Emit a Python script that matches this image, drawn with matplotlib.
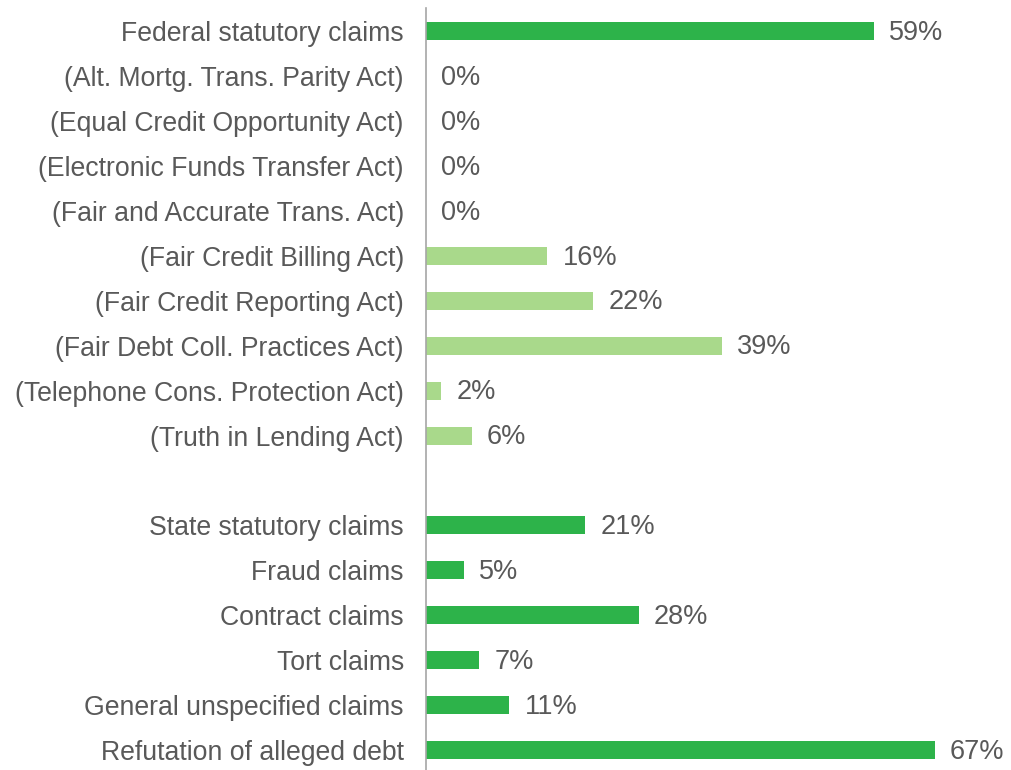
import numpy as np
import matplotlib.pyplot as plt

plt.rcParams['font.family'] = ['Liberation Sans', 'DejaVu Sans']

labels = [
    'Federal statutory claims',
    '(Alt. Mortg. Trans. Parity Act)',
    '(Equal Credit Opportunity Act)',
    '(Electronic Funds Transfer Act)',
    '(Fair and Accurate Trans. Act)',
    '(Fair Credit Billing Act)',
    '(Fair Credit Reporting Act)',
    '(Fair Debt Coll. Practices Act)',
    '(Telephone Cons. Protection Act)',
    '(Truth in Lending Act)',
    '',
    'State statutory claims',
    'Fraud claims',
    'Contract claims',
    'Tort claims',
    'General unspecified claims',
    'Refutation of alleged debt',
]
values = [59, 0, 0, 0, 0, 16, 22, 39, 2, 6, None, 21, 5, 28, 7, 11, 67]
is_sub = [False, True, True, True, True, True, True, True, True, True, False,
          False, False, False, False, False, False]

DARK = '#2db34a'
LIGHT = '#a9d98b'
TEXT = '#595959'

fig = plt.figure(figsize=(10.11, 7.70), dpi=100)
ax = fig.add_axes([426 / 1011, 0, 1 - 426 / 1011, 1 - 8 / 770])

ypos = np.arange(len(labels))
for y, v, sub in zip(ypos, values, is_sub):
    if v is None:
        continue
    ax.barh(y, v, height=0.4, color=LIGHT if sub else DARK)
    ax.text(v + 2.0, y + 0.04, f'{v}%', va='center', ha='left', fontsize=19.5, color=TEXT)

ax.set_xlim(0, (1011 - 426) / 7.59)
ax.set_ylim(16.44, -0.51)
ax.set_yticks(ypos)
ax.set_yticklabels(labels, fontsize=19.2, color=TEXT)
ax.tick_params(axis='y', length=0, pad=16)
ax.set_xticks([])
for s in ['top', 'right', 'bottom']:
    ax.spines[s].set_visible(False)
ax.spines['left'].set_color('#a6a6a6')
ax.spines['left'].set_linewidth(1.2)

fig.savefig('out.png', dpi=100)
